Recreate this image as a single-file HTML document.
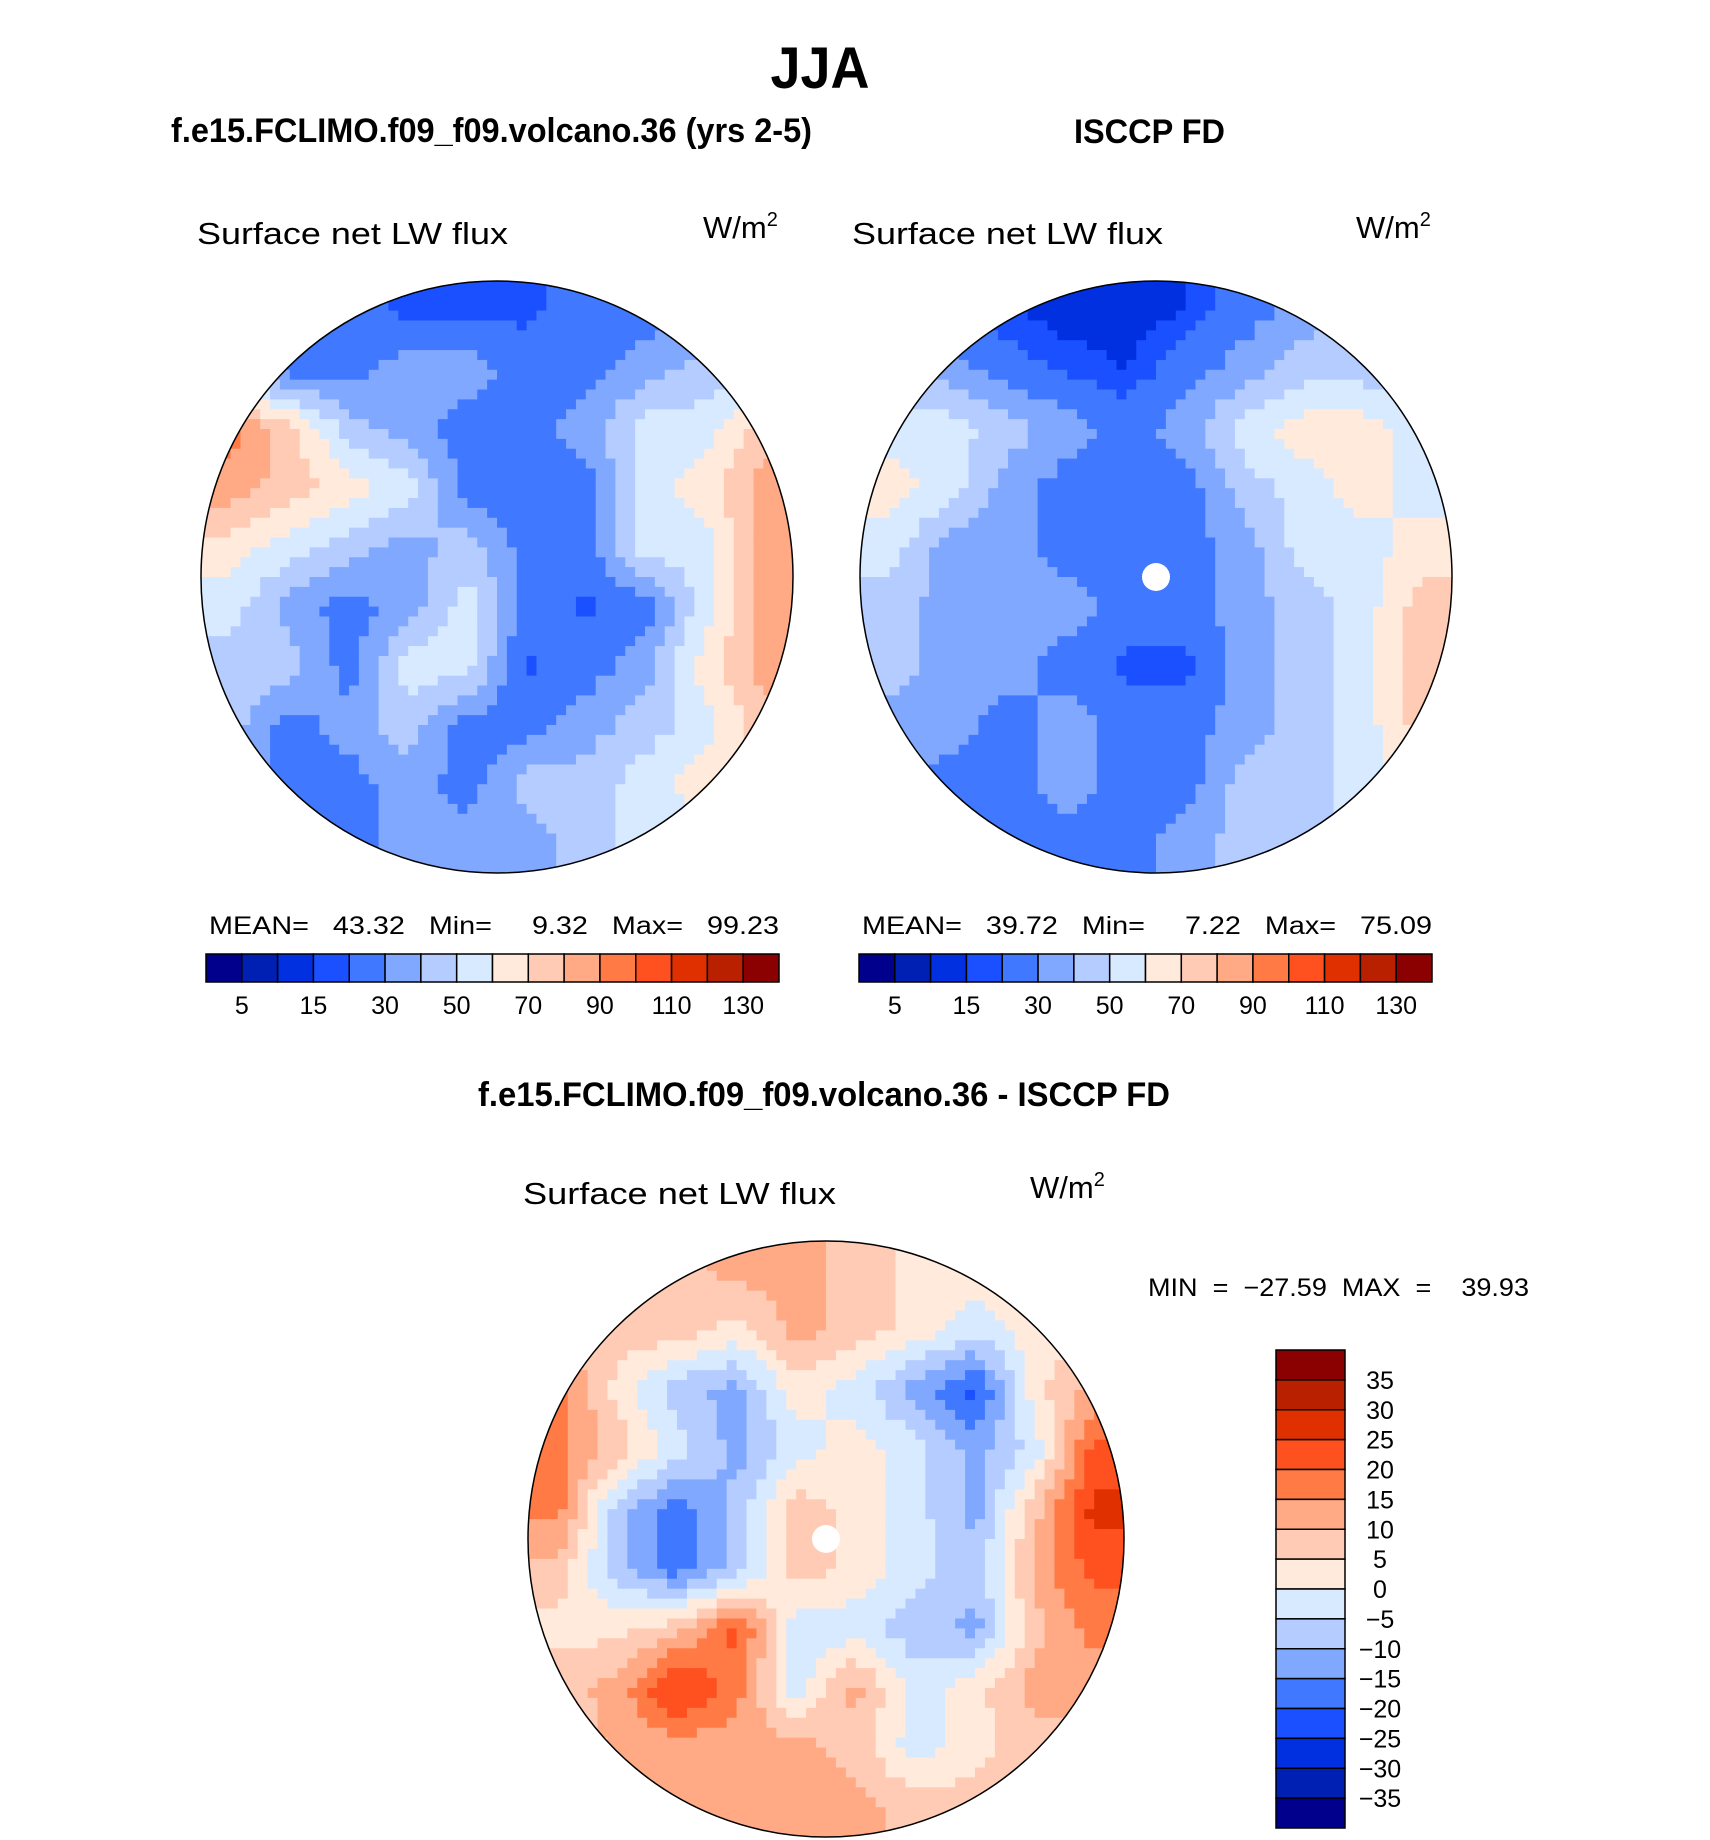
<!DOCTYPE html>
<html><head><meta charset="utf-8">
<style>
html,body{margin:0;padding:0;background:#fff;}
svg{display:block;}
text{font-family:"Liberation Sans",sans-serif;fill:#000;}
.b{font-weight:bold;}
.pre{white-space:pre;}
</style></head>
<body>
<svg id="fig" width="1710" height="1840" viewBox="0 0 1710 1840" xmlns="http://www.w3.org/2000/svg">
<defs>
<clipPath id="clipL"><circle cx="497" cy="577" r="296"/></clipPath>
<clipPath id="clipR"><circle cx="1156" cy="577" r="296"/></clipPath>
<clipPath id="clipD"><circle cx="826" cy="1539" r="298"/></clipPath>
</defs>
<text class="b" x="820" y="88" font-size="58" text-anchor="middle" textLength="99" lengthAdjust="spacingAndGlyphs">JJA</text>
<text class="b" x="171" y="142" font-size="34" textLength="641" lengthAdjust="spacingAndGlyphs">f.e15.FCLIMO.f09_f09.volcano.36 (yrs 2-5)</text>
<text class="b" x="1074" y="143" font-size="34" textLength="151" lengthAdjust="spacingAndGlyphs">ISCCP FD</text>
<text class="b" x="478" y="1106" font-size="34" textLength="692" lengthAdjust="spacingAndGlyphs">f.e15.FCLIMO.f09_f09.volcano.36 - ISCCP FD</text>

<text x="197" y="244" font-size="31" textLength="311" lengthAdjust="spacingAndGlyphs">Surface net LW flux</text>
<text x="703" y="238" font-size="31">W/m<tspan font-size="20" dy="-12">2</tspan></text>
<text x="852" y="244" font-size="31" textLength="311" lengthAdjust="spacingAndGlyphs">Surface net LW flux</text>
<text x="1356" y="238" font-size="31">W/m<tspan font-size="20" dy="-12">2</tspan></text>
<text x="523" y="1204" font-size="31" textLength="313" lengthAdjust="spacingAndGlyphs">Surface net LW flux</text>
<text x="1030" y="1198" font-size="31">W/m<tspan font-size="20" dy="-12">2</tspan></text>

<text class="pre" x="209" y="934" font-size="25" textLength="570" lengthAdjust="spacingAndGlyphs">MEAN=   43.32   Min=     9.32   Max=   99.23</text>
<text class="pre" x="862" y="934" font-size="25" textLength="570" lengthAdjust="spacingAndGlyphs">MEAN=   39.72   Min=     7.22   Max=   75.09</text>
<text class="pre" x="1148" y="1296" font-size="25" textLength="381" lengthAdjust="spacingAndGlyphs">MIN  =  −27.59  MAX  =    39.93</text>

<g id="mapL" clip-path="url(#clipL)"></g>
<g id="mapR" clip-path="url(#clipR)"></g>
<g id="mapD" clip-path="url(#clipD)"></g>
<circle cx="497" cy="577" r="296" fill="none" stroke="#000" stroke-width="1.5"/>
<circle cx="1156" cy="577" r="296" fill="none" stroke="#000" stroke-width="1.5"/>
<circle cx="826" cy="1539" r="298" fill="none" stroke="#000" stroke-width="1.5"/>
<circle cx="1156" cy="577" r="14" fill="#fff"/>
<circle cx="826" cy="1539" r="14" fill="#fff"/>
<g id="cbars"></g>
</svg>
<script>
const colors = ["#00008c","#0020b4","#0030e0","#1a50ff","#4078ff","#80a8ff","#b4ccff","#d8eaff","#ffeadc","#ffcbb4","#ffaa85","#ff7a45","#ff5020","#e03000","#b82000","#8b0000"];
const absLevels = [5,10,15,20,30,40,50,60,70,80,90,100,110,120,130];
const absTickLabels = ["5","15","30","50","70","90","110","130"];
const diffLevels = [-35,-30,-25,-20,-15,-10,-5,0,5,10,15,20,25,30,35];
const diffTickLabels = ["35","30","25","20","15","10","5","0","−5","−10","−15","−20","−25","−30","−35"];
const modelGrid = [
[25,25,25,18,18,18,25,25,25,25],
[35,25,25,35,35,25,25,35,45,45],
[95,75,45,35,25,25,35,55,55,75],
[85,75,65,55,25,25,25,55,65,85],
[65,55,45,35,45,25,25,55,55,85],
[55,35,25,35,55,25,18,25,55,85],
[45,45,25,55,55,18,25,35,65,85],
[45,25,35,45,25,25,35,45,55,75],
[35,25,25,35,25,45,45,55,65,75],
[35,35,25,35,35,35,45,55,55,65]];
const obsGrid = [
[25,18,15,12,12,15,25,35,45,45],
[35,35,25,18,15,25,35,45,45,45],
[55,55,45,35,25,35,55,65,65,55],
[65,55,35,25,25,25,45,55,65,55],
[55,35,35,25,25,25,35,55,55,65],
[45,35,35,35,25,25,35,45,55,75],
[45,35,35,25,18,18,35,45,55,75],
[35,35,25,35,25,25,35,45,55,75],
[35,25,25,35,25,25,45,45,55,65],
[35,25,25,25,25,35,45,45,55,65]];
const diffGrid = [
[3,8,8,12,12,8,3,3,3,3],
[8,8,8,3,12,8,3,-3,3,3],
[17,3,-8,-12,3,-3,-12,-22,3,12],
[17,8,-3,-12,-3,3,-3,-12,-3,22],
[17,-8,-18,-8,8,3,-3,-12,8,27],
[8,-8,-18,-8,8,3,-3,-8,12,22],
[3,3,8,22,-3,-3,-8,-12,8,17],
[8,12,27,17,-3,12,-3,3,12,12],
[3,12,12,12,12,8,-3,3,8,8],
[8,8,12,12,12,12,8,8,8,8]];

const NS="http://www.w3.org/2000/svg";
function levelIndex(v, levels){let i=0;while(i<levels.length&&v>=levels[i])i++;return i;}
function sample(g,fx,fy){
  const n=g.length;
  let x=fx*n-0.5,y=fy*n-0.5;
  x=Math.max(0,Math.min(n-1,x));y=Math.max(0,Math.min(n-1,y));
  const x0=Math.floor(x),y0=Math.floor(y),x1=Math.min(n-1,x0+1),y1=Math.min(n-1,y0+1);
  const tx=x-x0,ty=y-y0;
  return (g[y0][x0]*(1-tx)+g[y0][x1]*tx)*(1-ty)+(g[y1][x0]*(1-tx)+g[y1][x1]*tx)*ty;
}
function drawMap(id,grid,levels,cx,cy,r){
  const g=document.getElementById(id);
  const N=60, s=2*r/N;
  for(let j=0;j<N;j++)for(let i=0;i<N;i++){
    const v=sample(grid,(i+0.5)/N,(j+0.5)/N);
    const rc=document.createElementNS(NS,"rect");
    
    
    rc.setAttribute("x",(cx-r+i*s).toFixed(2));
    rc.setAttribute("y",(cy-r+j*s).toFixed(2));
    rc.setAttribute("width",(s+0.6).toFixed(2));
    rc.setAttribute("height",(s+0.6).toFixed(2));
    rc.setAttribute("fill",colors[levelIndex(v,levels)]);
    g.appendChild(rc);
  }
}
drawMap("mapL",modelGrid,absLevels,497,577,296);
drawMap("mapR",obsGrid,absLevels,1156,577,296);
drawMap("mapD",diffGrid,diffLevels,826,1539,298);

const cb=document.getElementById("cbars");
function hbar(x0,x1,y0,y1,name){
  const w=(x1-x0)/colors.length;
  colors.forEach((c,i)=>{
    const r=document.createElementNS(NS,"rect");
    
    
    r.setAttribute("x",x0+i*w);r.setAttribute("y",y0);r.setAttribute("width",w);r.setAttribute("height",y1-y0);
    r.setAttribute("fill",c);r.setAttribute("stroke","#000");r.setAttribute("stroke-width","1.5");
    cb.appendChild(r);
  });
  absTickLabels.forEach((t,k)=>{
    const tx=document.createElementNS(NS,"text");
    
    
    tx.setAttribute("x",x0+(2*k+1)*w);tx.setAttribute("y",y1+32);
    tx.setAttribute("font-size","25");tx.setAttribute("text-anchor","middle");
    tx.textContent=t;cb.appendChild(tx);
  });
}
hbar(206,779,954,982,"left-colorbar");
hbar(859,1432,954,982,"right-colorbar");
(function(){
  const x0=1276,x1=1345,y0=1350,y1=1828,h=(y1-y0)/colors.length;
  colors.slice().reverse().forEach((c,i)=>{
    const r=document.createElementNS(NS,"rect");
    
    
    r.setAttribute("x",x0);r.setAttribute("y",y0+i*h);r.setAttribute("width",x1-x0);r.setAttribute("height",h);
    r.setAttribute("fill",c);r.setAttribute("stroke","#000");r.setAttribute("stroke-width","1.5");
    cb.appendChild(r);
  });
  diffTickLabels.forEach((t,k)=>{
    const tx=document.createElementNS(NS,"text");
    
    
    tx.setAttribute("x",1380);tx.setAttribute("y",y0+(k+1)*h+9);
    tx.setAttribute("font-size","25");tx.setAttribute("text-anchor","middle");
    tx.textContent=t;cb.appendChild(tx);
  });
})();
</script>
</body></html>
